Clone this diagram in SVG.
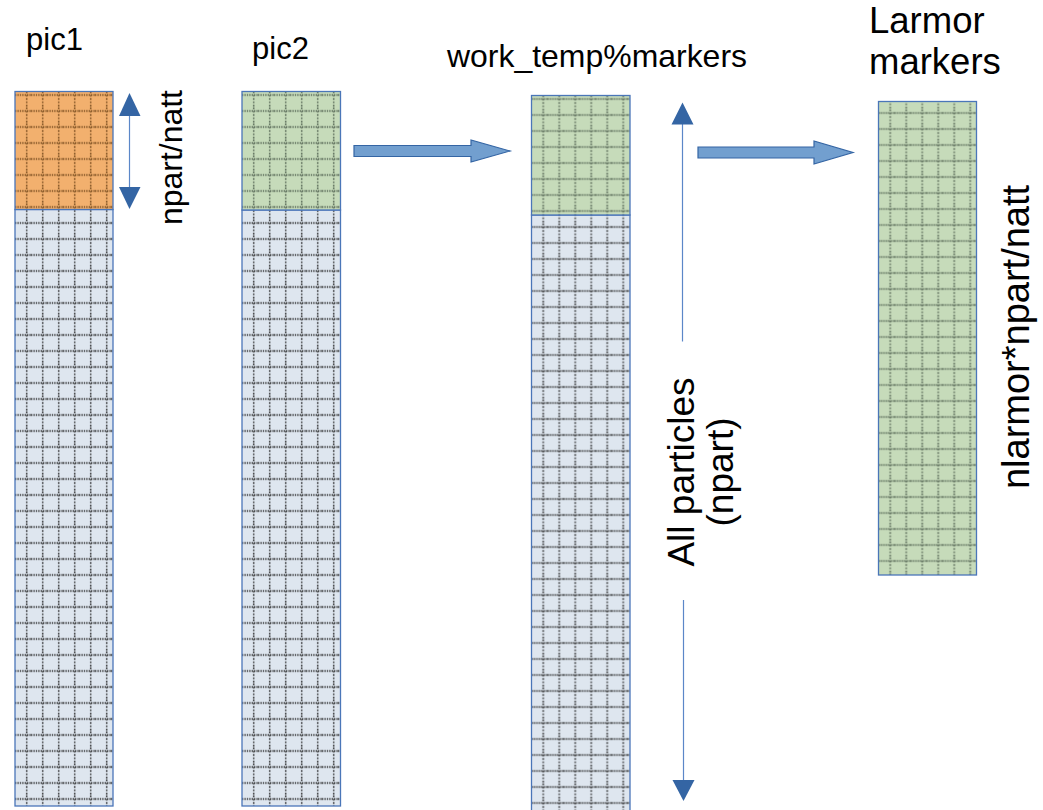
<svg xmlns="http://www.w3.org/2000/svg" width="1043" height="810" viewBox="0 0 1043 810">
<style>
text{font-family:"Liberation Sans",Arial,sans-serif;fill:#000}
.box{stroke:#4a76b8;stroke-width:1.3}
.blue{fill:#dee6ef}
.green{fill:#c6dbba}
.orange{fill:#f2b06e}
.blk{fill:#729fcf;stroke:#3465a4;stroke-width:1.2}
.vline{stroke:#5b87c8;stroke-width:1.2;fill:none}
.head{fill:#3465a4}
.h{stroke-width:1.6;stroke-dasharray:1.4 1}
.v{stroke-width:1.6;stroke-dasharray:1.4 2}
</style>
<defs>
<pattern id="gridB" width="16" height="16" patternUnits="userSpaceOnUse">
<path class="h" d="M0 3.5H16" stroke="#1e1e1e"/>
<path class="v" d="M11.7 0V16" stroke="#1e1e1e"/>
</pattern>
<pattern id="gridG" width="16" height="16" patternUnits="userSpaceOnUse">
<path class="h" d="M0 3.5H16" stroke="#4c5c4c"/>
<path class="v" d="M11.7 0V16" stroke="#4c5c4c"/>
</pattern>
<pattern id="gridO" width="16" height="16" patternUnits="userSpaceOnUse">
<path class="h" d="M0 3.5H16" stroke="#6e4418"/>
<path class="v" d="M11.7 0V16" stroke="#6e4418"/>
</pattern>
</defs>

<g id="pic1" transform="translate(15,91.5)">
<rect class="blue" x="0" y="118" width="98" height="596.5"/>
<rect x="0" y="118" width="98" height="596.5" fill="url(#gridB)"/>
<rect class="box" x="0" y="118" width="98" height="596.5" fill="none"/>
<rect class="orange" x="0" y="0" width="98" height="118"/>
<rect x="0" y="0" width="98" height="118" fill="url(#gridO)"/>
<rect class="box" x="0" y="0" width="98" height="118" fill="none"/>
</g>
<text id="pic1-label" x="26" y="50" font-size="31">pic1</text>

<g id="pic2" transform="translate(242,91.5)">
<rect class="blue" x="0" y="118.5" width="98.5" height="596"/>
<rect x="0" y="118.5" width="98.5" height="596" fill="url(#gridB)"/>
<rect class="box" x="0" y="118.5" width="98.5" height="596" fill="none"/>
<rect class="green" x="0" y="0" width="98.5" height="118.5"/>
<rect x="0" y="0" width="98.5" height="118.5" fill="url(#gridG)"/>
<rect class="box" x="0" y="0" width="98.5" height="118.5" fill="none"/>
</g>
<text id="pic2-label" x="252" y="59" font-size="31">pic2</text>

<g id="work_temp" transform="translate(531.5,95.5)">
<rect class="blue" x="0" y="119.5" width="98.5" height="600"/>
<rect x="0" y="119.5" width="98.5" height="600" fill="url(#gridB)"/>
<rect class="box" x="0" y="119.5" width="98.5" height="600" fill="none"/>
<rect class="green" x="0" y="0" width="98.5" height="119.5"/>
<rect x="0" y="0" width="98.5" height="119.5" fill="url(#gridG)"/>
<rect class="box" x="0" y="0" width="98.5" height="119.5" fill="none"/>
</g>
<text id="work_temp-label" x="447" y="67" font-size="32" textLength="300" lengthAdjust="spacingAndGlyphs">work_temp%markers</text>

<g id="larmor" transform="translate(878.5,101.5)">
<rect class="green" x="0" y="0" width="98" height="473.5"/>
<g transform="translate(0,8)"><rect x="0" y="-8" width="98" height="473.5" fill="url(#gridG)"/></g>
<rect class="box" x="0" y="0" width="98" height="473.5" fill="none"/>
</g>
<text id="larmor-label" font-size="36.5"><tspan x="869" y="33">Larmor</tspan><tspan x="869" y="74">markers</tspan></text>

<g id="connectors">
<polygon class="blk" points="354,145.5 471,145.5 471,140 510,151 471,162 471,156.5 354,156.5"/>
<polygon class="blk" points="698,147 814,147 814,141 853,152.5 814,164 814,158 698,158"/>
<g id="npart-arrow">
<line class="vline" x1="129.5" y1="114" x2="129.5" y2="189"/>
<polygon class="head" points="129.5,93 119,116 140.5,116"/>
<polygon class="head" points="129.5,209 119,187 140.5,187"/>
</g>
<g id="all-arrow">
<line class="vline" x1="682.5" y1="122" x2="682.5" y2="341.5"/>
<polygon class="head" points="682.5,102.5 671.5,124.5 693.5,124.5"/>
<line class="vline" x1="683.5" y1="600" x2="683.5" y2="782"/>
<polygon class="head" points="683.5,801 672.5,780 694.5,780"/>
</g>
</g>

<text id="npart-natt-label" transform="translate(182,225) rotate(-90)" font-size="32" textLength="135" lengthAdjust="spacingAndGlyphs">npart/natt</text>
<g id="all-particles-label" font-size="37" text-anchor="middle">
<text transform="translate(694,472) rotate(-90)">All particles</text>
<text transform="translate(733,472) rotate(-90)">(npart)</text>
</g>
<text id="nlarmor-label" transform="translate(1029,337) rotate(-90)" text-anchor="middle" font-size="38">nlarmor*npart/natt</text>
</svg>
